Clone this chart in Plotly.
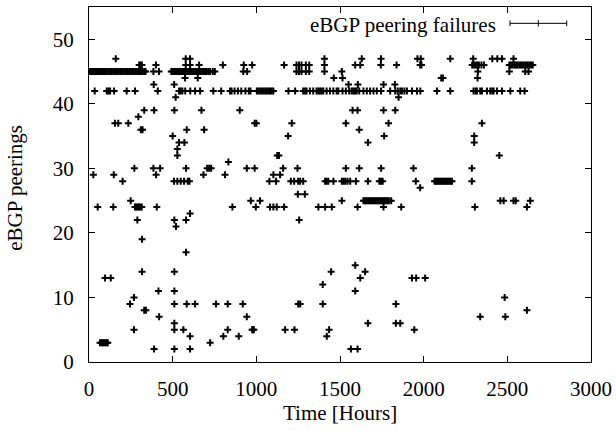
import plotly.graph_objects as go

# Failure times (hours) for each eBGP peering index
p47 = [160, 578, 604, 1407, 1630, 1745, 1963, 1983, 2159, 2296, 2410, 2440, 2468, 2537]
p46 = [300, 308, 316, 400, 578, 604, 658, 800, 925, 975, 1166, 1240, 1255, 1270, 1296, 1316,
       1407, 1591, 1621, 1744, 1838, 1979, 1987, 2290, 2300, 2310, 2320, 2330, 2345, 2360,
       2512, 2522, 2532, 2542, 2552, 2562, 2572, 2582, 2592, 2602, 2612, 2622, 2632, 2642, 2652]
p45 = [3, 10, 18, 26, 34, 42, 50, 58, 66, 74, 82, 90, 100, 110, 120, 128, 136, 146, 156, 166,
       176, 186, 194, 202, 212, 222, 230, 240, 250, 258, 266, 276, 286, 296, 304, 312, 320, 330,
       338, 385, 418, 492, 500, 508, 516, 524, 532, 540, 548, 556, 564, 572, 580, 588, 596, 604,
       612, 620, 628, 636, 644, 652, 660, 668, 676, 684, 692, 700, 712, 724, 740, 752,
       922, 945, 1240, 1255, 1270, 1296, 1316, 1407, 1511, 2324, 2512, 2607, 2627]
p44 = [574, 650, 1463, 1515, 2105, 2115, 2322]
p43 = [387, 509, 1551, 1607, 1760, 1828]
p42 = [34, 106, 116, 126, 150, 225, 275, 411, 538, 548, 558, 575, 605, 634, 664, 743, 790,
       843, 852, 870, 890, 910, 935, 955, 965, 1003, 1013, 1023, 1033, 1043, 1053, 1063, 1073,
       1082, 1092, 1102, 1192, 1232, 1280, 1290, 1300, 1320, 1340, 1360, 1370, 1380, 1390, 1400,
       1420, 1440, 1460, 1480, 1490, 1515, 1535, 1555, 1570, 1580, 1590, 1600, 1615, 1640, 1660,
       1680, 1700, 1720, 1745, 1800, 1830, 1845, 1860, 1870, 1885, 1900, 1930, 1960, 1980, 2079,
       2159, 2298, 2310, 2318, 2338, 2348, 2378, 2398, 2410, 2418, 2438, 2468, 2518, 2577, 2603]
p41 = [518, 1850]
p39 = [330, 389, 510, 672, 901, 1575, 1605, 1760, 1830]
p38 = [295]
p37 = [155, 175, 235, 990, 1000, 1212, 1535, 1790, 2348]
p36 = [310, 320, 584, 688, 1615]
p35 = [500, 1190, 1764, 2302]
p34 = [538, 570, 1667, 2302]
p33 = [528]
p32 = [528, 1125, 1135, 2452]
p31 = [833]
p30 = [271, 385, 425, 580, 706, 718, 730, 943, 990, 1160, 1246, 1535, 1615, 1746, 1939, 2288]
p29 = [26, 148, 401, 684, 813, 1102, 1142]
p28 = [201, 508, 528, 548, 568, 590, 600, 1078, 1118, 1206, 1226, 1250, 1262, 1280, 1411,
       1420, 1430, 1461, 1511, 1522, 1532, 1545, 1561, 1595, 1667, 1735, 1745, 1755, 1953,
       2065, 2073, 2081, 2089, 2097, 2105, 2113, 2121, 2129, 2137, 2145, 2153, 2161, 2169, 2288]
p27 = [1979]
p26 = [1248, 1290]
p25 = [249, 967, 1022, 1511, 1640, 1648, 1656, 1664, 1672, 1680, 1688, 1696, 1704, 1712,
       1720, 1728, 1736, 1744, 1752, 1760, 1768, 1776, 1784, 1792, 1806, 2458, 2478, 2537,
       2550, 2637]
p24 = [52, 145, 275, 283, 291, 299, 307, 315, 405, 857, 997, 1082, 1102, 1122, 1166, 1371,
       1411, 1451, 1605, 1760, 1866, 2306, 2617]
p23 = [604]
p22 = [289, 510, 580, 1256]
p21 = [520]
p19 = [317]
p17 = [580]
p15 = [1591]
p14 = [317, 510, 1447, 1650]
p13 = [96, 130, 1621, 1930, 1955, 2009]
p12 = [1397]
p11 = [415, 510, 1591]
p10 = [269, 2484]
p9 = [245, 510, 584, 634, 759, 829, 919, 1250, 1262, 1397, 1834]
p8 = [330, 340, 2617]
p7 = [419, 943, 2338, 2488]
p6 = [510, 1667, 1834, 1860]
p5 = [269, 510, 564, 829, 975, 980, 985, 1172, 1228, 1435, 1944]
p4 = [604, 803, 895, 1421]
p3 = [66, 74, 82, 90, 98, 106, 112, 724]
p2 = [389, 510, 604, 1565, 1605]

peering_series = [
    (47, p47), (46, p46), (45, p45), (44, p44), (43, p43), (42, p42), (41, p41), (39, p39),
    (38, p38), (37, p37), (36, p36), (35, p35), (34, p34), (33, p33), (32, p32), (31, p31),
    (30, p30), (29, p29), (28, p28), (27, p27), (26, p26), (25, p25), (24, p24), (23, p23),
    (22, p22), (21, p21), (19, p19), (17, p17), (15, p15), (14, p14), (13, p13), (12, p12),
    (11, p11), (10, p10), (9, p9), (8, p8), (7, p7), (6, p6), (5, p5), (4, p4), (3, p3), (2, p2),
]

x_ticks = [0, 500, 1000, 1500, 2000, 2500, 3000]
y_ticks = [0, 10, 20, 30, 40, 50]
legend_label = "eBGP peering failures"

xs, ys = [], []
for peer, hours in peering_series:
    xs.extend(hours)
    ys.extend([peer] * len(hours))

FONT = "Liberation Serif"

fig = go.Figure()
fig.add_trace(go.Scatter(
    x=xs, y=ys, mode="markers", name=legend_label, showlegend=False, hoverinfo="skip",
    marker=dict(symbol="cross-thin", size=5, line=dict(color="black", width=2), color="black"),
))

axis_common = dict(
    showline=True, linecolor="black", linewidth=1, mirror="allticks",
    ticks="inside", ticklen=6, tickcolor="black", tickwidth=1,
    showgrid=False, zeroline=False, automargin=False,
    tickfont=dict(family=FONT, size=21, color="black"),
)

fig.update_xaxes(range=[0, 3000], tickvals=x_ticks, ticktext=[str(v) for v in x_ticks],
                 ticklabelstandoff=8, **axis_common)
fig.update_yaxes(range=[0, 55], tickvals=y_ticks, ticktext=[str(v) for v in y_ticks],
                 ticklabelstandoff=10, **axis_common)

# axis titles placed as in the reference
fig.add_annotation(x=0.5, y=-0.143, xref="paper", yref="paper", text="Time [Hours]",
                   showarrow=False, xanchor="center", yanchor="middle",
                   font=dict(family=FONT, size=21, color="black"))
fig.add_annotation(x=-0.148, y=0.49, xref="paper", yref="paper", text="eBGP peerings",
                   showarrow=False, xanchor="center", yanchor="middle", textangle=-90,
                   font=dict(family=FONT, size=21, color="black"))

# legend drawn in gnuplot style: text on the left, sample on the right
fig.add_annotation(x=0.8148, y=0.950, xref="paper", yref="paper", text=legend_label,
                   showarrow=False, xanchor="right", yanchor="middle",
                   font=dict(family=FONT, size=21, color="black"))
ly = 0.954
fig.add_shape(type="line", xref="paper", yref="paper", x0=0.8386, x1=0.9516, y0=ly, y1=ly,
              line=dict(color="black", width=1))
for xc in (0.8386, 0.9516):
    fig.add_shape(type="line", xref="paper", yref="paper", x0=xc, x1=xc, y0=ly - 0.008, y1=ly + 0.008,
                  line=dict(color="black", width=1))
fig.add_shape(type="line", xref="paper", yref="paper", x0=0.8951, x1=0.8951, y0=ly - 0.009, y1=ly + 0.009,
              line=dict(color="black", width=1))

fig.update_layout(
    width=616, height=431,
    margin=dict(l=89, r=25, t=7, b=69),
    paper_bgcolor="white", plot_bgcolor="white",
    font=dict(family=FONT, size=21, color="black"),
    hovermode=False,
)

fig.write_html("out.html", config={"displayModeBar": False, "staticPlot": True},
               post_script="document.body.style.margin='0';document.body.style.padding='0';")
